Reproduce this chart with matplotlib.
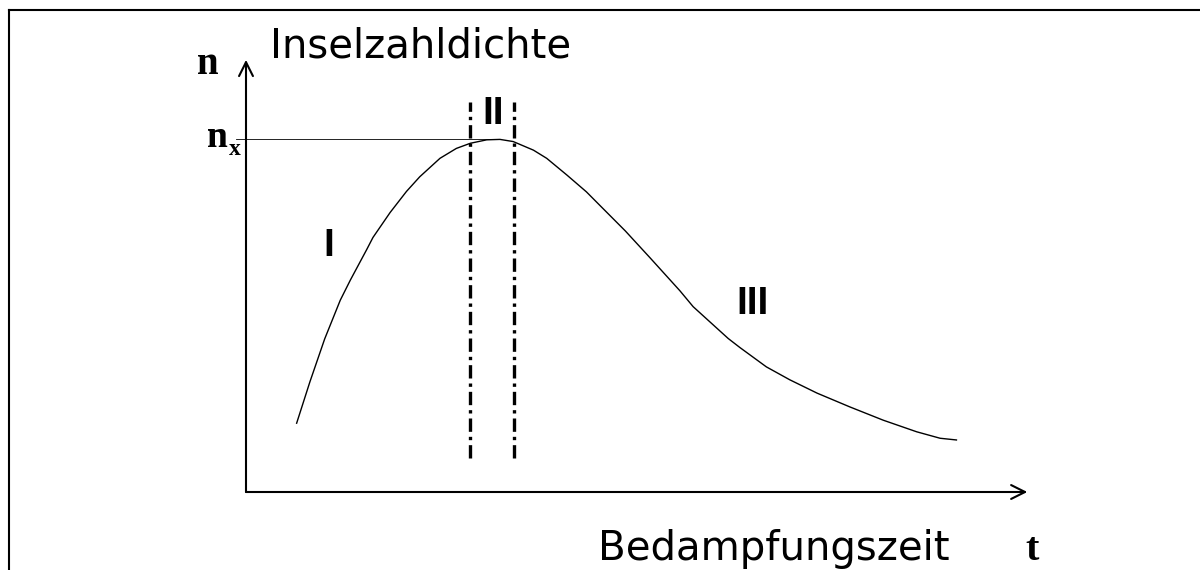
import matplotlib
matplotlib.use("Agg")
import matplotlib.pyplot as plt
from matplotlib.lines import Line2D

# curve: island number density n over deposition time t (arbitrary units)
t_vals = [6.5, 8.2, 10.1, 12.1, 13.4, 15.5, 16.3, 18.5, 20.6, 22.3, 24.9, 27.0,
          28.8, 30.9, 32.6, 34.3, 36.9, 38.6, 41.2, 43.7, 45.4, 48.7, 51.9, 53.2,
          55.7, 57.4, 61.9, 63.4, 66.8, 69.8, 73.3, 77.5, 81.8, 86.1, 89.1, 91.2]
n_vals = [16.0, 25.6, 35.6, 44.6, 49.3, 56.4, 59.2, 65.0, 69.9, 73.3, 77.6, 79.9,
          81.1, 81.9, 82.0, 81.5, 79.5, 77.6, 73.7, 69.8, 66.7, 60.7, 54.4, 51.8,
          46.8, 43.1, 35.7, 33.6, 29.1, 26.1, 23.0, 19.8, 16.7, 14.0, 12.5, 12.1]

n_x = 82.0
t_peak = 32.6
region_bounds = [28.8, 34.4]
bound_span = [7.9, 90.7]

region_labels = ["I", "II", "III"]
region_pos = [(9.9, 55.0), (30.4, 85.6), (63.0, 41.4)]

fig = plt.figure(figsize=(12, 5.7), dpi=100)
ax = fig.add_axes([246 / 1200, 78 / 570, 779 / 1200, 430 / 570])
ax.set_xlim(0, 100)
ax.set_ylim(0, 100)
ax.axis("off")

# axes with open arrow heads
arr = dict(arrowstyle="->,head_length=0.5,head_width=0.25", lw=1.5, color="black",
           mutation_scale=20, shrinkA=0, shrinkB=0)
ax.annotate("", xy=(0, 1.005), xytext=(0, 0), xycoords="axes fraction", arrowprops=arr)
ax.annotate("", xy=(1.003, 0), xytext=(0, 0), xycoords="axes fraction", arrowprops=arr)

ax.plot(t_vals, n_vals, color="black", lw=1.0, clip_on=False, solid_joinstyle="round")
ax.plot([-1.3, t_peak], [n_x, n_x], color="black", lw=0.6, clip_on=False)
for tb in region_bounds:
    ax.plot([tb, tb], bound_span, color="black", lw=2.4, ls=(0, (4, 1.5, 1, 1.5)))

for lab, (tx, ny) in zip(region_labels, region_pos):
    ax.text(tx, ny, lab, fontsize=28, fontweight="bold", family="Liberation Sans",
            ha="left", va="baseline")

serif = dict(family="Liberation Serif", fontweight="bold", va="baseline", ha="left")
fig.text(197 / 1200, 1 - 74 / 570, "n", fontsize=28, **serif)
fig.text(207 / 1200, 1 - 147 / 570, "n", fontsize=27, **serif)
fig.text(229 / 1200, 1 - 155 / 570, "x", fontsize=17, **serif)
fig.text(1025 / 1200, 1 - 560 / 570, "t", fontsize=29, **serif)

fig.text(270 / 1200, 1 - 57 / 570, "Inselzahldichte", fontsize=29, family="DejaVu Sans",
         va="baseline", ha="left")
fig.text(598 / 1200, 1 - 560 / 570, "Bedampfungszeit", fontsize=29, family="DejaVu Sans",
         va="baseline", ha="left")

# frame lines at top and left
fig.add_artist(Line2D([9 / 1200, 1], [1 - 10 / 570, 1 - 10 / 570], color="black", lw=1.5,
                      transform=fig.transFigure))
fig.add_artist(Line2D([9 / 1200, 9 / 1200], [0, 1 - 10 / 570], color="black", lw=1.5,
                      transform=fig.transFigure))

fig.savefig("out.png", dpi=100)
